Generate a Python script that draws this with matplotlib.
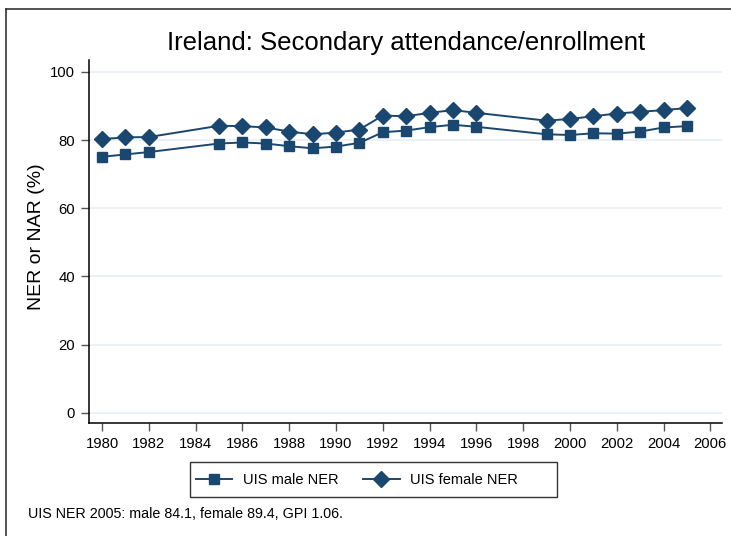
import matplotlib
matplotlib.use('Agg')
from matplotlib import pyplot as plt
from matplotlib.lines import Line2D
from matplotlib.patches import Rectangle

plt.rcParams['font.family'] = ['Liberation Sans', 'DejaVu Sans']

navy = '#1a476f'
grid_color = '#e8eff2'

years_male = [1980, 1981, 1982, 1985, 1986, 1987, 1988, 1989, 1990, 1991, 1992,
              1993, 1994, 1995, 1996, 1999, 2000, 2001, 2002, 2003, 2004, 2005]
male_ner = [75.1, 75.8, 76.5, 79.0, 79.3, 79.0, 78.2, 77.6, 78.1, 79.2, 82.3,
            82.8, 83.8, 84.5, 83.9, 81.7, 81.5, 82.0, 81.9, 82.5, 83.7, 84.1]

years_female = years_male
female_ner = [80.3, 80.8, 80.9, 84.2, 84.1, 83.7, 82.5, 81.7, 82.2, 83.1, 87.2,
              87.0, 88.0, 88.8, 88.0, 85.7, 86.2, 87.0, 87.8, 88.3, 88.8, 89.4]

xticks = list(range(1980, 2007, 2))
yticks = [0, 20, 40, 60, 80, 100]

W, H = 731, 536
fig = plt.figure(figsize=(W / 100, H / 100), dpi=100)
ax = fig.add_axes([89/W, 1 - 423/H, (722-89)/W, (423-60)/H])

for y in yticks:
    ax.axhline(y, color=grid_color, lw=1.2, zorder=0)

ax.plot(years_male, male_ner, color=navy, lw=1.4, marker='s', markersize=7.5,
        label='UIS male NER', zorder=3)
ax.plot(years_female, female_ner, color=navy, lw=1.4, marker='D', markersize=8,
        label='UIS female NER', zorder=3)

ax.set_xlim(1979.44, 2006.5)
ax.set_ylim(-3.0, 103.5)
ax.set_xticks(xticks)
ax.set_yticks(yticks)
ax.tick_params(axis='both', labelsize=10.7, length=6, width=1, color='#555555', pad=4)
ax.spines['top'].set_visible(False)
ax.spines['right'].set_visible(False)
ax.spines['left'].set_linewidth(1.1)
ax.spines['bottom'].set_linewidth(1.1)

fig.text(37/W, 1 - 237/H, 'NER or NAR (%)', fontsize=14, rotation=90,
         ha='center', va='center')

fig.text(406/W, 1 - 43/H, 'Ireland: Secondary attendance/enrollment',
         fontsize=18.5, ha='center', va='center')

# legend (Stata style: extra room on the right)
handles = [Line2D([0], [0], color=navy, lw=1.4, marker='s', markersize=7.5),
           Line2D([0], [0], color=navy, lw=1.4, marker='D', markersize=8)]
fig.legend(handles, ['UIS male NER', 'UIS female NER'], ncol=2,
           loc='center left', bbox_to_anchor=(196/W, 1 - 480/H),
           fontsize=10.5, frameon=False, borderpad=0, borderaxespad=0,
           handlelength=2.5, handletextpad=0.7, columnspacing=1.7)
fig.add_artist(Rectangle((190/W, 1 - 497/H), (557-190)/W, (497-462)/H,
                         transform=fig.transFigure, fill=False,
                         edgecolor='#333333', lw=1.0))

fig.text(28/W, 1 - 514/H, 'UIS NER 2005: male 84.1, female 89.4, GPI 1.06.',
         fontsize=10.3, ha='left', va='center')

# outer frame (top and left edges visible)
fig.add_artist(Line2D([6/W, 6/W], [0, 1 - 9/H], color='#333333', lw=1.2))
fig.add_artist(Line2D([6/W, 1], [1 - 9/H, 1 - 9/H], color='#333333', lw=1.2))

fig.savefig('out.png', dpi=100)
